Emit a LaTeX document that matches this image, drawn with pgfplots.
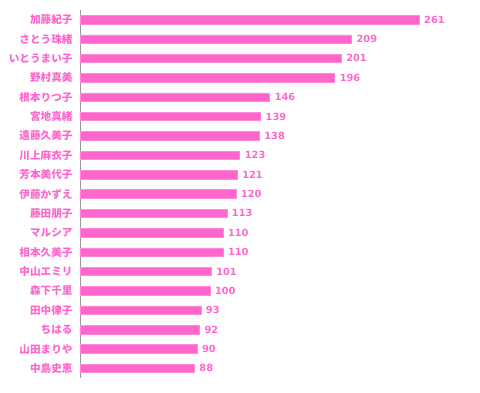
\documentclass[border=0pt]{standalone}
\usepackage{pgfplots}
\pgfplotsset{compat=1.18}
\usepackage{fontspec}
\setmainfont{DejaVu Sans}
\newfontfamily\cjk{Noto Sans CJK JP}
\definecolor{barpink}{HTML}{FF66CC}
\definecolor{barline}{HTML}{FF88D8}
\definecolor{axgray}{HTML}{999999}
\begin{document}
\begin{tikzpicture}
\begin{axis}[
  at={(0,0)}, anchor=south west,
  scale only axis,
  width=390pt, height=368pt,
  xbar, bar width=8.5pt,
  xmin=0, xmax=300.2,
  ymin=-0.5, ymax=18.5,
  y dir=reverse,
  axis x line=none,
  axis y line*=left,
  y axis line style={draw=axgray, line width=0.8pt, -},
  ytick={0,...,18},
  yticklabels={加藤紀子,さとう珠緒,いとうまい子,野村真美,根本りつ子,宮地真緒,遠藤久美子,川上麻衣子,芳本美代子,伊藤かずえ,藤田朋子,マルシア,相本久美子,中山エミリ,森下千里,田中律子,ちはる,山田まりや,中島史恵},
  yticklabel style={font=\cjk\bfseries\fontsize{10.6}{11}\selectfont, text=barpink, xshift=-4pt},
  major tick length=0pt,
  nodes near coords,
  nodes near coords align=horizontal,
  nodes near coords style={font=\bfseries\fontsize{9.8}{11}\selectfont, text=barpink, anchor=west, xshift=1.5pt},
  point meta=explicit symbolic,
  clip=false,
]
\addplot[fill=barpink, draw=barline, line width=0.6pt] table[x=v, y=i, meta=v] {
i v
0 261
1 209
2 201
3 196
4 146
5 139
6 138
7 123
8 121
9 120
10 113
11 110
12 110
13 101
14 100
15 93
16 92
17 90
18 88
};
\end{axis}
\path[use as bounding box] (-80pt,-14pt) rectangle (400pt,378pt);
\end{tikzpicture}
\end{document}
